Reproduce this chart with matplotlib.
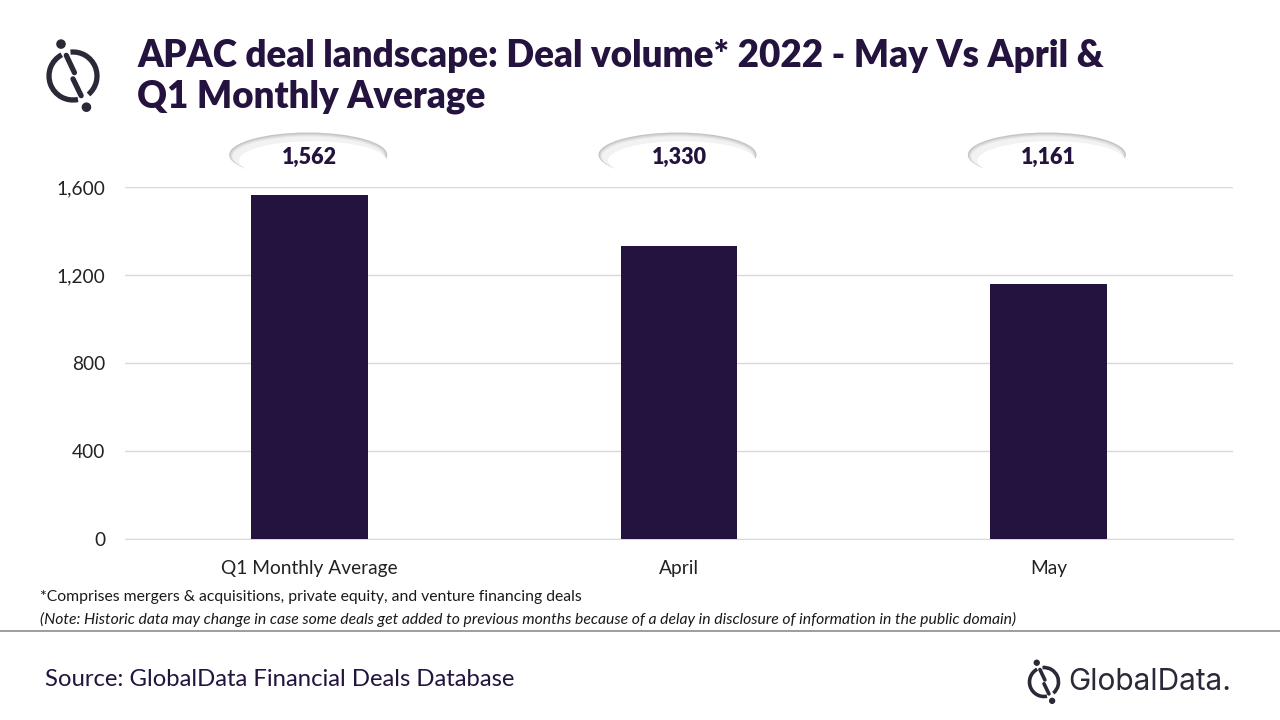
import matplotlib

matplotlib.use("Agg")
import matplotlib.pyplot as plt
from matplotlib.patches import Arc, Circle, Ellipse
from matplotlib.transforms import blended_transform_factory

categories = ["Q1 Monthly Average", "April", "May"]
deal_volume = [1562, 1330, 1161]
y_ticks = [0, 400, 800, 1200, 1600]
y_tick_labels = ["0", "400", "800", "1,200", "1,600"]

title = "APAC deal landscape: Deal volume* 2022 - May Vs April &\nQ1 Monthly Average"
footnote = "*Comprises mergers & acquisitions, private equity, and venture financing deals"
note = ("(Note: Historic data may change in case some deals get added to previous months "
        "because of a delay in disclosure of information in the public domain)")
source = "Source: GlobalData Financial Deals Database"

DARK = "#24133f"
LOGO = "#2b2838"
plt.rcParams["font.family"] = ["Lato", "DejaVu Sans"]


def draw_logo(fig, cx, cy, r, color, lw):
  # circle split by a diagonal slash, with a dot at each end (pixel coords, y from top)
  fx, fy = cx / 1280, 1 - cy / 720
  ax = fig.add_axes([fx - 1.6 * r / 1280, fy - 1.6 * r / 720, 3.2 * r / 1280, 3.2 * r / 720])
  ax.set_xlim(-1.6, 1.6)
  ax.set_ylim(-1.6, 1.6)
  ax.axis("off")
  ax.add_patch(Arc((0, 0), 2, 2, theta1=118, theta2=282, color=color, lw=lw))
  ax.add_patch(Arc((0, 0), 2, 2, theta1=310, theta2=96, color=color, lw=lw))
  ax.plot([-0.28, 0.06], [0.86, 0.14], color=color, lw=lw, solid_capstyle="round")
  ax.plot([0.0, 0.34], [-0.12, -0.82], color=color, lw=lw, solid_capstyle="round")
  ax.add_patch(Circle((-0.5, 1.33), 0.17, color=color))
  ax.add_patch(Circle((0.56, -1.3), 0.17, color=color))


fig = plt.figure(figsize=(12.8, 7.2), dpi=100)
ax = fig.add_axes([125 / 1280, 1 - 539 / 720, 1108 / 1280, 352 / 720])

positions = range(len(categories))
ax.bar(positions, deal_volume, width=0.315, color=DARK, zorder=3)
ax.set_xlim(-0.5, 2.5)
ax.set_ylim(0, 1600)
ax.set_yticks(y_ticks)
ax.set_yticklabels(y_tick_labels)
ax.set_xticks(list(positions))
ax.set_xticklabels(categories)
ax.tick_params(axis="both", length=0, labelsize=13.8, colors="#222222")
ax.tick_params(axis="y", pad=14)
ax.tick_params(axis="x", pad=15)
ax.grid(axis="y", color="#d9d9d9", linewidth=1)
for side in ["left", "right", "top"]:
  ax.spines[side].set_visible(False)
ax.spines["bottom"].set_color("#d9d9d9")

# value labels in shaded ellipses above the plot
trans = blended_transform_factory(ax.transData, fig.transFigure)
ycen = 1 - 157 / 720
for i, v in enumerate(deal_volume):
  for k, shade in enumerate(["#c4c4c4", "#d6d6d6", "#e6e6e6", "#f2f2f2"]):
    ax.add_patch(Ellipse((i - 0.004, ycen + 0.003 - k * 0.0008), 0.428 - k * 0.006, 0.062 - k * 0.002,
                         transform=trans, facecolor=shade, edgecolor="none", clip_on=False, zorder=4))
  ax.add_patch(Ellipse((i + 0.008, ycen - 0.005), 0.40, 0.054, transform=trans,
                       facecolor="white", edgecolor="none", clip_on=False, zorder=5))
  ax.text(i, ycen, f"{v:,}", transform=trans, ha="center", va="center",
          fontsize=15.5, fontweight="heavy", color=DARK, zorder=6)

fig.text(137 / 1280, 1 - 39 / 720, title, ha="left", va="top", fontsize=26.5,
         fontweight="heavy", color=DARK, linespacing=1.22)
draw_logo(fig, 73, 76, 24, LOGO, 3.8)

fig.text(40 / 1280, 1 - 597 / 720, footnote, ha="left", va="center", fontsize=11.3, color="#1a1a1a")
fig.text(40 / 1280, 1 - 619 / 720, note, ha="left", va="center", fontsize=11.3,
         style="italic", color="#1a1a1a")
fig.add_artist(plt.Line2D([0, 1], [1 - 631 / 720] * 2, color="#8c8c8c", lw=1.2,
                          transform=fig.transFigure))
fig.text(45 / 1280, 1 - 680 / 720, source, ha="left", va="center", fontsize=17.2, color=DARK)

draw_logo(fig, 1044, 682, 14.5, LOGO, 2.6)
fig.text(1068 / 1280, 1 - 682 / 720, "GlobalData.", ha="left", va="center", fontsize=21.5,
         color=LOGO, family=["Inter", "DejaVu Sans"])

fig.savefig("out.png", dpi=100)
